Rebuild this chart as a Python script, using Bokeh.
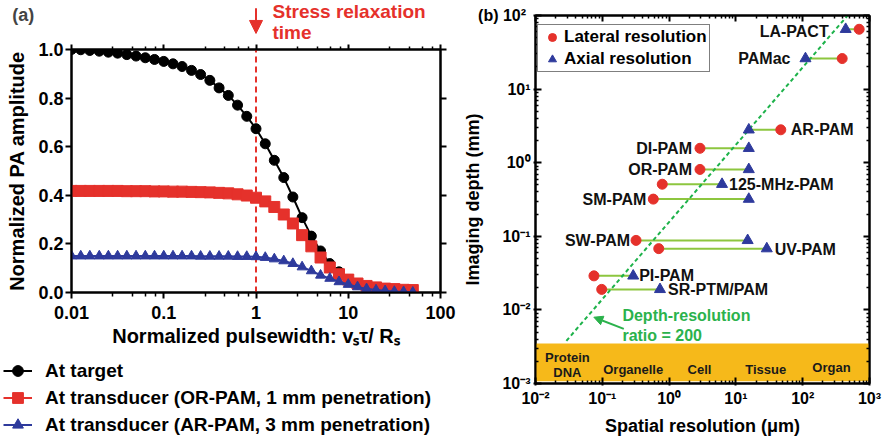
from bokeh.plotting import figure
from bokeh.models import (Range1d, LinearAxis, LogAxis, Legend, LegendItem, Label, Arrow,
                          NormalHead, BoxAnnotation, CustomJSTickFormatter, FixedTicker,
                          ColumnDataSource, NumeralTickFormatter)
from bokeh.layouts import row, column
from bokeh.core.properties import value
from bokeh.embed import file_html
from bokeh.resources import INLINE

FONT = "Liberation Sans"

# ---------------- Panel (a) data ----------------
pulsewidth = [0.01, 0.0126, 0.0158, 0.02, 0.0251, 0.0316, 0.0398, 0.0501, 0.0631, 0.0794,
              0.1, 0.126, 0.158, 0.2, 0.251, 0.316, 0.398, 0.501, 0.631, 0.794,
              1.0, 1.26, 1.58, 2.0, 2.51, 3.16, 3.98, 5.01, 6.31, 7.94,
              10.0, 12.6, 15.8, 20.0, 25.1, 31.6, 39.8, 50.1]
amp_target = [1.000, 0.999, 0.996, 0.993, 0.989, 0.985, 0.979, 0.973, 0.966, 0.959,
              0.951, 0.941, 0.930, 0.914, 0.897, 0.873, 0.842, 0.811, 0.771, 0.725,
              0.674, 0.612, 0.544, 0.473, 0.393, 0.308, 0.232, 0.171, 0.119, 0.085,
              0.053, 0.034, 0.021, 0.014, 0.010, 0.007, 0.005, 0.004]
amp_or_pam = [0.418, 0.418, 0.418, 0.418, 0.418, 0.418, 0.417, 0.417, 0.417, 0.416,
              0.416, 0.415, 0.415, 0.414, 0.413, 0.412, 0.410, 0.408, 0.404, 0.399,
              0.390, 0.375, 0.352, 0.321, 0.284, 0.236, 0.190, 0.144, 0.103, 0.075,
              0.053, 0.037, 0.027, 0.021, 0.016, 0.014, 0.011, 0.010]
amp_ar_pam = [0.150, 0.150, 0.150, 0.150, 0.150, 0.150, 0.150, 0.150, 0.150, 0.150,
              0.150, 0.150, 0.150, 0.150, 0.149, 0.149, 0.149, 0.149, 0.148, 0.148,
              0.147, 0.144, 0.138, 0.130, 0.119, 0.105, 0.089, 0.071, 0.058, 0.044,
              0.033, 0.023, 0.015, 0.010, 0.007, 0.004, 0.003, 0.001]
series_labels = ["At target",
                 "At transducer (OR-PAM, 1 mm penetration)",
                 "At transducer (AR-PAM, 3 mm penetration)"]
x_ticks_a = [0.01, 0.1, 1, 10, 100]
y_ticks_a = [0.0, 0.2, 0.4, 0.6, 0.8, 1.0]
stress_relaxation_x = 1.0

# ---------------- Panel (b) data ----------------
techniques = ["LA-PACT", "PAMac", "AR-PAM", "DI-PAM", "OR-PAM", "125-MHz-PAM",
              "SM-PAM", "SW-PAM", "UV-PAM", "PI-PAM", "SR-PTM/PAM"]
lateral_um = [700, 390, 47, 2.9, 2.9, 0.79, 0.58, 0.32, 0.70, 0.075, 0.098]
axial_um = [440, 110, 15.6, 15.6, 15.6, 6.2, 15.6, 15.0, 29, 0.29, 0.73]
depth_mm = [65, 26, 2.8, 1.57, 0.81, 0.51, 0.32, 0.088, 0.068, 0.029, 0.019]
ratio_line_um = [0.029, 470]
ratio_line_mm = [0.0038, 100]
scale_names = ["Protein", "DNA", "Organelle", "Cell", "Tissue", "Organ"]
scale_x_um = [0.030, 0.030, 0.29, 2.85, 28, 270]
scale_y_mm = [0.00225, 0.00141, 0.00155, 0.00155, 0.00155, 0.00166]
x_ticks_b = [0.01, 0.1, 1, 10, 100, 1000]
y_ticks_b = [0.001, 0.01, 0.1, 1, 10, 100]

RED = "#E5312B"
BLUE = "#2E3A9C"
BLACK = "#000000"
GREEN_LINE = "#8DC63F"
GREEN_DASH = "#1DB24A"
GREEN_TEXT = "#2BB24C"
BAND = "#F6B91A"

# ---------------- geometry (pixels) ----------------
A_W, HEAD_H, A_H, FOOT_H = 460, 42, 310, 90
A_LEFT, A_RIGHT, A_TOP, A_BOTTOM = 71, 20, 7, 60
B_W, B_H = 426, 442
B_LEFT, B_RIGHT, B_TOP, B_BOTTOM = 75, 17, 15, 59


def style_axis(ax, size, tick_in, tick_out, minor_in, minor_out):
    ax.axis_line_width = 2
    ax.axis_line_color = "black"
    ax.major_tick_line_width = 2
    ax.major_tick_line_color = "black"
    ax.minor_tick_line_width = 1.5
    ax.minor_tick_line_color = "black"
    ax.major_tick_in = tick_in
    ax.major_tick_out = tick_out
    ax.minor_tick_in = minor_in
    ax.minor_tick_out = minor_out
    ax.major_label_text_font = FONT
    ax.major_label_text_font_style = "bold"
    ax.major_label_text_font_size = size
    ax.major_label_text_color = "black"
    ax.axis_label_text_font = FONT
    ax.axis_label_text_font_style = "bold"
    ax.axis_label_text_color = "black"


def minor_linear(decades):
    out = []
    for d in decades[:-1]:
        for i in range(1, 5):
            out.append(d * (1 + 1.8 * i))
    return out


def minor_log(decades):
    out = []
    for d in decades[:-1]:
        for i in range(2, 10):
            out.append(d * i)
    return out


def no_align(p):
    try:
        p.frame_align = False
    except Exception:
        pass


def helper_fig(w, h, xr, yr, x_type="linear"):
    f = figure(width=w, height=h, x_range=xr, y_range=yr, x_axis_type=x_type,
               x_axis_location=None, y_axis_location=None,
               output_backend="svg", toolbar_location=None,
               min_border=0, min_border_left=0, min_border_right=0,
               min_border_top=0, min_border_bottom=0)
    no_align(f)
    f.outline_line_color = None
    try:
        f.grid.visible = False
    except Exception:
        pass
    return f


blank = CustomJSTickFormatter(code="return '';")

# ================= Panel (a) main plot =================
pa = figure(width=A_W, height=A_H, x_axis_type="log",
            x_range=Range1d(x_ticks_a[0], x_ticks_a[-1]), y_range=Range1d(0, 1.0),
            output_backend="svg", toolbar_location=None,
            min_border_left=A_LEFT, min_border_right=A_RIGHT,
            min_border_top=A_TOP, min_border_bottom=A_BOTTOM)
no_align(pa)
pa.outline_line_color = "black"
pa.outline_line_width = 2
pa.grid.visible = False

fmt_a = CustomJSTickFormatter(code="""
const e = Math.round(Math.log10(tick));
return e < 0 ? Math.pow(10, e).toFixed(-e) : String(Math.round(Math.pow(10, e)));
""")
xa = pa.xaxis[0]
xa.ticker = FixedTicker(ticks=x_ticks_a, minor_ticks=minor_linear(x_ticks_a))
xa.formatter = fmt_a
style_axis(xa, "18px", 0, 6, 0, 4)
xa.major_label_standoff = 7
xa.axis_label = "Normalized pulsewidth: vₛτ/ Rₛ"
xa.axis_label_text_font_size = "20px"
xa.axis_label_standoff = 3

ya = pa.yaxis[0]
ya.ticker = FixedTicker(ticks=y_ticks_a)
ya.formatter = NumeralTickFormatter(format="0.0")
style_axis(ya, "18px", 0, 6, 0, 0)
ya.minor_tick_line_color = None
ya.major_label_standoff = 2
ya.axis_label = "Normalized PA amplitude"
ya.axis_label_text_font_size = "20px"
ya.axis_label_standoff = 7

top_a = LogAxis(ticker=FixedTicker(ticks=x_ticks_a, minor_ticks=minor_linear(x_ticks_a)), formatter=blank)
style_axis(top_a, "10px", 0, 5, 0, 3)
top_a.major_label_standoff = 0
pa.add_layout(top_a, "above")
right_a = LinearAxis(ticker=FixedTicker(ticks=y_ticks_a), formatter=blank)
style_axis(right_a, "10px", 0, 6, 0, 0)
right_a.minor_tick_line_color = None
right_a.major_label_standoff = 0
pa.add_layout(right_a, "right")

# dashed marker of the stress relaxation time
pa.line(x=[stress_relaxation_x, stress_relaxation_x], y=[0, 1.0], line_color=RED,
        line_width=2, line_dash="6 4")

src_a = ColumnDataSource(dict(x=pulsewidth, t=amp_target, o=amp_or_pam, a=amp_ar_pam))
pa.line("x", "t", source=src_a, line_color=BLACK, line_width=2)
pa.scatter("x", "t", source=src_a, marker="circle", size=10, fill_color=BLACK, line_color=BLACK)
pa.line("x", "o", source=src_a, line_color=RED, line_width=2)
pa.scatter("x", "o", source=src_a, marker="square", size=11, fill_color=RED, line_color=RED)
pa.line("x", "a", source=src_a, line_color=BLUE, line_width=2)
pa.scatter("x", "a", source=src_a, marker="triangle", size=10, fill_color=BLUE, line_color=BLUE)

# ================= Panel (a) header (same x scale as the plot) =================
px_per_log = (A_W - A_LEFT - A_RIGHT) / 4.0
lo = -2 - A_LEFT / px_per_log
hi = 2 + A_RIGHT / px_per_log
px_per_unit = A_H - A_TOP - A_BOTTOM
head_a = helper_fig(A_W, HEAD_H, Range1d(10 ** lo, 10 ** hi),
                    Range1d(1 + A_TOP / px_per_unit, 1 + (A_TOP + HEAD_H) / px_per_unit),
                    x_type="log")
head_a.add_layout(Label(x=0.003, y=1.14, text="(a)", text_font=FONT, text_font_style="bold",
                        text_font_size="18px", text_align="center", text_baseline="middle"))
head_a.add_layout(Label(x=1.51, y=1.158, text="Stress relaxation", text_font=FONT,
                        text_font_style="bold", text_font_size="19px", text_color=RED,
                        text_align="left", text_baseline="middle"))
head_a.add_layout(Label(x=1.51, y=1.07, text="time", text_font=FONT,
                        text_font_style="bold", text_font_size="19px", text_color=RED,
                        text_align="left", text_baseline="middle"))
head_a.add_layout(Arrow(x_start=stress_relaxation_x, y_start=1.17, x_end=stress_relaxation_x,
                        y_end=1.066, line_color=RED, line_width=2,
                        end=NormalHead(size=13, fill_color=RED, line_color=RED)))

# ================= Panel (a) footer with the legend =================
foot_a = helper_fig(A_W, FOOT_H, Range1d(0, 1), Range1d(0, 1))
offscreen = ColumnDataSource(dict(x=[5], y=[5]))  # legend proxies, outside the visible range
fl1 = foot_a.line("x", "y", source=offscreen, line_color=BLACK, line_width=2)
fs1 = foot_a.scatter("x", "y", source=offscreen, marker="circle", size=9, fill_color=BLACK, line_color=BLACK)
fl2 = foot_a.line("x", "y", source=offscreen, line_color=RED, line_width=2)
fs2 = foot_a.scatter("x", "y", source=offscreen, marker="square", size=9, fill_color=RED, line_color=RED)
fl3 = foot_a.line("x", "y", source=offscreen, line_color=BLUE, line_width=2)
fs3 = foot_a.scatter("x", "y", source=offscreen, marker="triangle", size=9, fill_color=BLUE, line_color=BLUE)
leg_a = Legend(items=[LegendItem(label=series_labels[0], renderers=[fl1, fs1]),
                      LegendItem(label=series_labels[1], renderers=[fl2, fs2]),
                      LegendItem(label=series_labels[2], renderers=[fl3, fs3])],
               location=(3, 4), padding=0, margin=0, spacing=0,
               glyph_width=29, glyph_height=27, label_height=27, label_standoff=13,
               label_text_font=FONT, label_text_font_style="bold", label_text_font_size="19px",
               label_text_color="black",
               border_line_color=None, background_fill_alpha=0)
foot_a.add_layout(leg_a)

# ================= Panel (b) =================
pb = figure(width=B_W, height=B_H, x_axis_type="log", y_axis_type="log",
            x_range=Range1d(x_ticks_b[0], x_ticks_b[-1]), y_range=Range1d(y_ticks_b[0], y_ticks_b[-1]),
            output_backend="svg", toolbar_location=None,
            min_border_left=B_LEFT, min_border_right=B_RIGHT,
            min_border_top=B_TOP, min_border_bottom=B_BOTTOM)
no_align(pb)
pb.outline_line_color = "black"
pb.outline_line_width = 2
pb.grid.visible = False

SUP = """const sup = {'-': '\u207B', '0': '\u2070', '1': '\u00B9', '2': '\u00B2', '3': '\u00B3',
             '4': '\u2074', '5': '\u2075', '6': '\u2076', '7': '\u2077', '8': '\u2078', '9': '\u2079'};
const e = Math.round(Math.log10(tick));
const s = '10' + String(e).split('').map(c => sup[c]).join('');
"""
fmt_bx = CustomJSTickFormatter(code=SUP + "return s;")
# the panel tag "(b)" sits just left of the top y tick label, as in the original figure
fmt_by = CustomJSTickFormatter(code=SUP + "return e == 2 ? '(b)  ' + s : s;")

xb = pb.xaxis[0]
xb.ticker = FixedTicker(ticks=x_ticks_b, minor_ticks=minor_log(x_ticks_b))
xb.formatter = fmt_bx
style_axis(xb, "16px", 6, 2, 3, 0)
xb.major_label_standoff = 4
xb.axis_label = "Spatial resolution (μm)"
xb.axis_label_text_font_size = "18px"
xb.axis_label_standoff = 6

yb = pb.yaxis[0]
yb.ticker = FixedTicker(ticks=y_ticks_b, minor_ticks=minor_log(y_ticks_b))
yb.formatter = fmt_by
style_axis(yb, "16px", 6, 2, 3, 0)
yb.major_label_standoff = 3
yb.axis_label = "Imaging depth (mm)"
yb.axis_label_text_font_size = "18px"
yb.axis_label_standoff = -8

top_b = LogAxis(ticker=FixedTicker(ticks=x_ticks_b, minor_ticks=minor_log(x_ticks_b)), formatter=blank)
style_axis(top_b, "10px", 6, 0, 3, 0)
top_b.major_label_standoff = 0
pb.add_layout(top_b, "above")
right_b = LogAxis(ticker=FixedTicker(ticks=y_ticks_b, minor_ticks=minor_log(y_ticks_b)), formatter=blank)
style_axis(right_b, "10px", 6, 0, 3, 0)
right_b.major_label_standoff = 0
pb.add_layout(right_b, "right")

pb.add_layout(BoxAnnotation(left=x_ticks_b[0], right=x_ticks_b[-1], bottom=0.00107, top=0.0035,
                            fill_color=BAND, fill_alpha=1.0, line_color=None, level="underlay"))
pb.text(x=scale_x_um, y=scale_y_mm, text=scale_names, text_font=value(FONT),
        text_font_style="bold", text_font_size="13px", text_color="#1a1a1a",
        text_align="center", text_baseline="middle")

src_b = ColumnDataSource(dict(name=techniques, lat=lateral_um, ax=axial_um, d=depth_mm))
pb.segment(x0="lat", x1="ax", y0="d", y1="d", source=src_b, line_color=GREEN_LINE, line_width=2)
pb.line(x=ratio_line_um, y=ratio_line_mm, line_color=GREEN_DASH, line_width=2, line_dash="4 3")
rc = pb.scatter("lat", "d", source=src_b, marker="circle", size=10, fill_color=RED, line_color=RED)
bt = pb.scatter("ax", "d", source=src_b, marker="triangle", size=11, fill_color=BLUE, line_color=BLUE)

anchor_x = [axial_um[0], axial_um[1], lateral_um[2], lateral_um[3], lateral_um[4], axial_um[5],
            lateral_um[6], lateral_um[7], axial_um[8], axial_um[9], axial_um[10]]
offs = [-17, -15, 10, -8, -8, 7, -7, -6, 8, 6, 8]
y_offs = [2, 0, 0, 0, 0, 0, 0, 0, 1, 0, 0]
aligns = ["right", "right", "left", "right", "right", "left", "right", "right", "left", "left", "left"]
for nm, xx, yy, ox, oy, al in zip(techniques, anchor_x, depth_mm, offs, y_offs, aligns):
    pb.add_layout(Label(x=xx, y=yy, x_offset=ox, y_offset=-oy, text=nm, text_font=FONT,
                        text_font_style="bold", text_font_size="16px", text_color="#111111",
                        text_align=al, text_baseline="middle"))

pb.add_layout(Label(x=0.2, y=0.0084, text="Depth-resolution", text_font=FONT, text_font_style="bold",
                    text_font_size="16px", text_color=GREEN_TEXT, text_align="left", text_baseline="middle"))
pb.add_layout(Label(x=0.2, y=0.00449, text="ratio = 200", text_font=FONT, text_font_style="bold",
                    text_font_size="16px", text_color=GREEN_TEXT, text_align="left", text_baseline="middle"))
pb.add_layout(Arrow(x_start=0.21, y_start=0.00553, x_end=0.0747, y_end=0.00796,
                    line_color=GREEN_TEXT, line_width=2,
                    end=NormalHead(size=9, fill_color=GREEN_TEXT, line_color=GREEN_TEXT)))

leg_b = Legend(items=[LegendItem(label="Lateral resolution", renderers=[rc]),
                      LegendItem(label="Axial resolution", renderers=[bt])],
               location=(2, 311), padding=2, margin=0, spacing=2,
               glyph_width=24, glyph_height=20, label_height=20, label_standoff=0,
               label_text_font=FONT, label_text_font_style="bold", label_text_font_size="17px",
               label_text_color="black",
               border_line_color="black", border_line_width=1.5, background_fill_color="white",
               background_fill_alpha=1)
pb.add_layout(leg_b)

layout = row(column(head_a, pa, foot_a, spacing=0), pb, spacing=0)
open("out.html", "w").write(file_html(layout, INLINE))
